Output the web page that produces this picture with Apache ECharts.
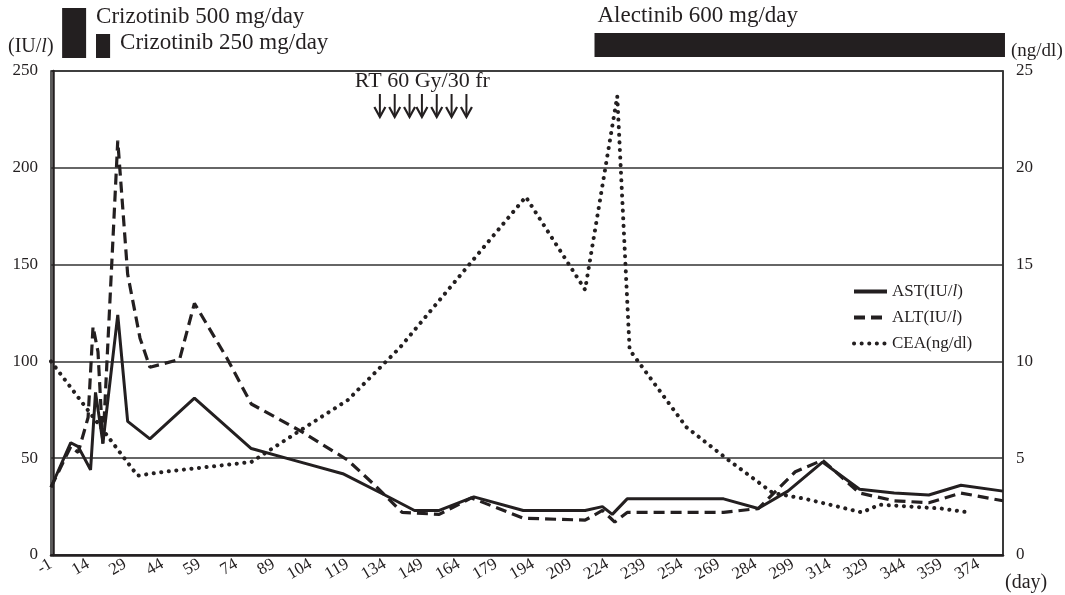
<!DOCTYPE html>
<html><head><meta charset="utf-8">
<script src="https://cdn.jsdelivr.net/npm/echarts@6/dist/echarts.min.js"></script>
<style>html,body{margin:0;padding:0;background:#fff}#c{width:1065px;height:595px}</style>
</head><body><div id="c"></div>
<script>
// ---- data ----
const xTicks = [-1,14,29,44,59,74,89,104,119,134,149,164,179,194,209,224,239,254,269,284,299,314,329,344,359,374];
const xMin = -1, xMax = 384;

const astDays = [-1,7,10,15,17,20,26,30,39,57,80,97,117,134,146,156,170,190,215,222,226,232,271,285,297,311,326,340,354,367,384];
const astVals = [35,58,56,44,84,58,124,69,60,81,55,49,42,31,23,23,30,23,23,25,21,29,29,24,33,48,34,32,31,36,33];

const altDays = [-1,7,10,14,16,18,20,26,30,35,39,51,57,70,80,100,119,130,141,156,169,190,215,222,227,232,271,285,300,311,326,340,354,367,384];
const altVals = [35,56,53,71,118,105,57,214,145,112,97,101,130,102,78,64,49,36,22,21,29.5,19,18,23,17,22,22,24,43,49,32,28,27,32,28];

const ceaDays = [-1,34,45,80,100,119,140,191,215,228,233,256,273,291,304,327,334,359,370];
const ceaVals = [10.0,4.1,4.3,4.8,6.45,8.0,10.7,18.5,13.7,23.7,10.6,6.6,4.9,3.2,2.9,2.2,2.6,2.4,2.2];

const seriesNames = ['AST(IU/l)','ALT(IU/l)','CEA(ng/dl)'];

const drugs = [
  {label:'Crizotinib 500 mg/day', start:3.5, end:13.2},
  {label:'Crizotinib 250 mg/day', start:17.2, end:22.9},
  {label:'Alectinib 600 mg/day', start:218.8, end:384.8}
];
const rtLabel = 'RT 60 Gy/30 fr';
const rtDays = [132,138,144,149,155,161,167];

// ---- chart ----
const FONT = 'Liberation Serif';
const INK = '#231f20';
const zip = (d, v) => d.map((x, i) => [x, v[i]]);

const chart = echarts.init(document.getElementById('c'));
chart.setOption({
  animation: false,
  textStyle: {fontFamily: FONT, color: INK},
  grid: {left: 51, right: 62, top: 71, bottom: 40, show: true, borderColor: '#333', borderWidth: 1.6, containLabel: false},
  legend: {
    orient: 'vertical', left: 847, top: 278, itemGap: 9, itemWidth: 33, itemHeight: 14,
    data: seriesNames,
    itemStyle: {opacity: 0},
    lineStyle: {width: 4},
    textStyle: {fontFamily: FONT, fontSize: 17, color: INK, rich: {i: {fontStyle: 'italic', fontFamily: FONT, fontSize: 17, color: INK}}},
    formatter: n => n.replace('IU/l', 'IU/{i|l}')
  },
  xAxis: {
    type: 'value', min: xMin, max: xMax,
    axisLine: {show: true, lineStyle: {color: INK, width: 2.5}},
    axisTick: {show: false},
    splitLine: {show: false},
    axisLabel: {customValues: xTicks, rotate: 30, fontSize: 17, fontFamily: FONT, color: INK, margin: 8}
  },
  yAxis: [
    {type: 'value', min: 0, max: 250, interval: 50, position: 'left',
     axisLine: {show: true, lineStyle: {color: INK, width: 2.5}}, axisTick: {show: false},
     splitLine: {show: true, lineStyle: {color: '#333', width: 1.6}},
     axisLabel: {fontSize: 17, fontFamily: FONT, color: INK, margin: 13}},
    {type: 'value', min: 0, max: 25, interval: 5, position: 'right',
     axisLine: {show: true, lineStyle: {color: '#333', width: 1.6}}, axisTick: {show: false},
     splitLine: {show: false},
     axisLabel: {fontSize: 17, fontFamily: FONT, color: INK, margin: 13}}
  ],
  series: [
    {name: seriesNames[0], type: 'line', yAxisIndex: 0, data: zip(astDays, astVals), symbol: 'none',
     lineStyle: {color: INK, width: 3, type: 'solid'}, itemStyle: {color: INK}, z: 5},
    {name: seriesNames[1], type: 'line', yAxisIndex: 0, data: zip(altDays, altVals), symbol: 'none',
     lineStyle: {color: INK, width: 3.2, type: [11, 6]}, itemStyle: {color: INK}, z: 4},
    {name: seriesNames[2], type: 'line', yAxisIndex: 1, data: zip(ceaDays, ceaVals), symbol: 'none',
     lineStyle: {color: INK, width: 4, type: [0.1, 7.5], cap: 'round'}, itemStyle: {color: INK}, z: 3}
  ]
});

// ---- annotations placed through the x scale ----
const px = d => chart.convertToPixel({xAxisIndex: 0}, d);
const g = [];
const TF = '23px "Liberation Serif"';
const UF = '20px "Liberation Serif"';
const richI = {i: {fontStyle: 'italic', fontFamily: FONT, fontSize: 20, fill: INK}};
{
  const a = px(drugs[0].start), b = px(drugs[0].end);
  g.push({type: 'rect', shape: {x: a, y: 8, width: b - a, height: 50}, style: {fill: INK}});
  g.push({type: 'text', x: b + 10, y: 5, style: {text: drugs[0].label, font: TF, fill: INK}});
}
{
  const a = px(drugs[1].start), b = px(drugs[1].end);
  g.push({type: 'rect', shape: {x: a, y: 34, width: b - a, height: 24}, style: {fill: INK}});
  g.push({type: 'text', x: b + 10, y: 31, style: {text: drugs[1].label, font: TF, fill: INK}});
}
{
  const a = px(drugs[2].start), b = px(drugs[2].end);
  g.push({type: 'rect', shape: {x: a, y: 33, width: b - a, height: 24}, style: {fill: INK}});
  g.push({type: 'text', x: a + 3, y: 4, style: {text: drugs[2].label, font: TF, fill: INK}});
}
{
  const a = px(rtDays[0]);
  g.push({type: 'text', x: a - 25, y: 70, style: {text: rtLabel, font: '22px "Liberation Serif"', fill: INK}});
  rtDays.forEach(d => {
    const x = px(d);
    g.push({type: 'line', shape: {x1: x, y1: 94, x2: x, y2: 117}, style: {stroke: INK, lineWidth: 2}});
    g.push({type: 'polyline', shape: {points: [[x - 5.5, 107], [x, 117], [x + 5.5, 107]]}, style: {stroke: INK, lineWidth: 2.2, fill: null}});
  });
}
g.push({type: 'text', x: 8, y: 37, style: {text: '(IU/{i|l})', font: UF, fill: INK, rich: richI}});
g.push({type: 'text', x: 1011, y: 42, style: {text: '(ng/dl)', font: '19px "Liberation Serif"', fill: INK}});
g.push({type: 'text', x: 1005, y: 573, style: {text: '(day)', font: UF, fill: INK}});
chart.setOption({graphic: g});
</script>
</body></html>
